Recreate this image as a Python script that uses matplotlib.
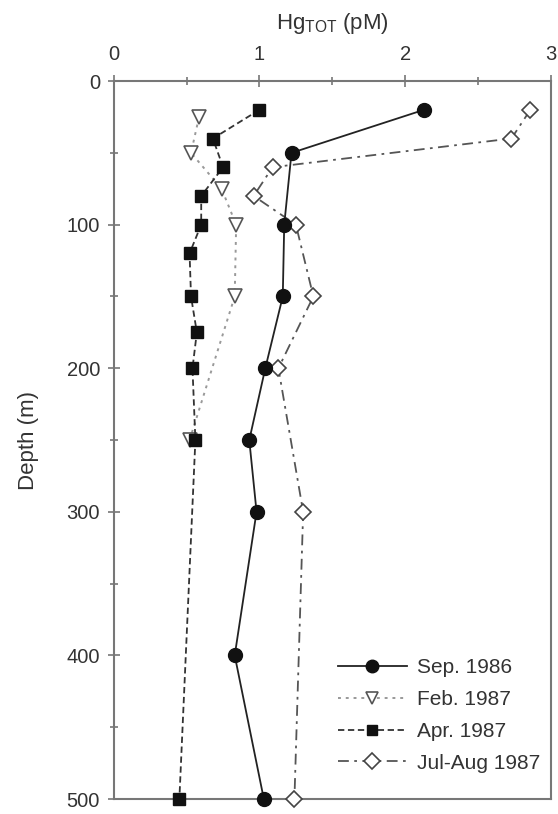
import numpy as np
from matplotlib import pyplot as plt
from matplotlib.ticker import MultipleLocator

plt.rcParams["font.family"] = ["Liberation Sans", "DejaVu Sans"]

# Sep. 1986
sep_depth = [20, 50, 100, 150, 200, 250, 300, 400, 500]
sep_hg = [2.13, 1.22, 1.17, 1.16, 1.04, 0.93, 0.98, 0.83, 1.03]

# Feb. 1987
feb_depth = [25, 50, 75, 100, 150, 250]
feb_hg = [0.585, 0.53, 0.74, 0.84, 0.83, 0.52]

# Apr. 1987
apr_depth = [20, 40, 60, 80, 100, 120, 150, 175, 200, 250, 500]
apr_hg = [1.0, 0.68, 0.75, 0.60, 0.60, 0.52, 0.53, 0.57, 0.54, 0.56, 0.45]

# Jul-Aug 1987
jul_depth = [20, 40, 60, 80, 100, 150, 200, 300, 500]
jul_hg = [2.86, 2.73, 1.09, 0.96, 1.25, 1.37, 1.13, 1.30, 1.24]

fig = plt.figure(figsize=(5.58, 8.14), dpi=100)
ax = fig.add_axes([0.204, 0.0184, 0.783, 0.882])

ax.plot(sep_hg, sep_depth, color="#222222", linestyle="-", linewidth=1.3,
        marker="o", markersize=10, markerfacecolor="#111111",
        markeredgecolor="#111111", label="Sep. 1986", clip_on=False, zorder=4)
ax.plot(feb_hg, feb_depth, color="#999999", linestyle=(0, (1.5, 2.5)), linewidth=1.4,
        marker="v", markersize=10, markerfacecolor="white",
        markeredgecolor="#555555", markeredgewidth=1.2,
        label="Feb. 1987", clip_on=False, zorder=3)
ax.plot(apr_hg, apr_depth, color="#333333", linestyle=(0, (3.5, 2)), linewidth=1.3,
        marker="s", markersize=8.5, markerfacecolor="#111111",
        markeredgecolor="#111111", label="Apr. 1987", clip_on=False, zorder=3)
ax.plot(jul_hg, jul_depth, color="#555555", linestyle=(0, (6, 3, 1.5, 3)), linewidth=1.3,
        marker="D", markersize=8.5, markerfacecolor="white",
        markeredgecolor="#444444", markeredgewidth=1.2,
        label="Jul-Aug 1987", clip_on=False, zorder=3)

ax.set_xlim(0, 3)
ax.set_ylim(500, 0)
ax.xaxis.set_ticks_position("top")
ax.xaxis.set_label_position("top")
ax.xaxis.set_major_locator(MultipleLocator(1))
ax.xaxis.set_minor_locator(MultipleLocator(0.5))
ax.yaxis.set_major_locator(MultipleLocator(100))
ax.yaxis.set_minor_locator(MultipleLocator(50))
ax.tick_params(which="both", direction="inout", color="#777777", width=1.2,
               labelsize=14.5, labelcolor="#333333")
ax.tick_params(which="major", length=8)
ax.tick_params(which="minor", length=6)
ax.tick_params(axis="x", pad=8)
ax.tick_params(axis="y", pad=6)

for s in ax.spines.values():
    s.set_color("#777777")
    s.set_linewidth(1.5)

ax.set_xlabel(r"Hg$_{\mathregular{TOT}}$ (pM)", fontsize=16, color="#333333", labelpad=12)
ax.set_ylabel("Depth (m)", fontsize=16, color="#333333", labelpad=20)

leg = ax.legend(loc="lower right", frameon=False, fontsize=15, handlelength=3.3,
                handletextpad=0.5, labelspacing=0.62, borderaxespad=0,
                bbox_to_anchor=(0.995, 0.025), markerscale=0.9)
for t in leg.get_texts():
    t.set_color("#333333")

fig.savefig("out.png", dpi=100)
